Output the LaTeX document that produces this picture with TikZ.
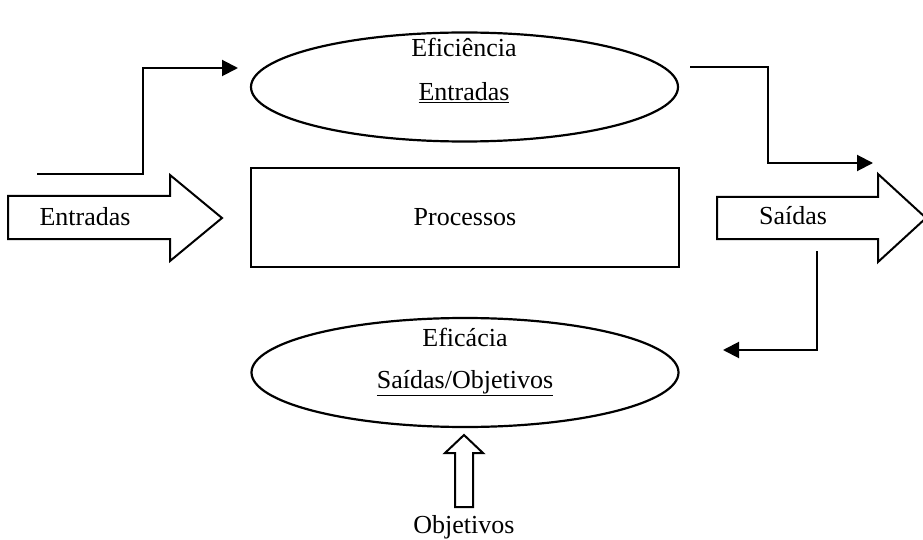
\documentclass[tikz,border=0pt]{standalone}
\usepackage{fontspec}
\setmainfont{Liberation Serif}
\usetikzlibrary{shapes.geometric,arrows.meta}

\tikzset{
    txt/.style={font=\fontsize{26pt}{30pt}\selectfont,inner sep=0pt},
    oval/.style={ellipse,draw,line width=2.2pt,minimum width=427pt,minimum height=109pt,inner sep=0pt},
    blockarrow/.style={draw,line width=2pt,line join=miter},
    conn/.style={line width=2pt,-{Triangle[length=16pt,width=16pt]}}
}

\begin{document}
\begin{tikzpicture}[x=1pt,y=-1pt]
            \useasboundingbox (0,0) rectangle (923,540);

            \node (efi) at (464.5,87) [oval] {};
            \node (efa) at (465,372.5) [oval] {};
            \node (proc) at (465,217.5) [rectangle,draw,line width=2.2pt,minimum width=428pt,minimum height=99pt,txt] {Processos};

            \node (efit) at (464,47) [txt] {Eficiência};
            \node (efie) at (464,93) [txt] {\underline{Entradas}};
            \node (efat) at (465,337) [txt] {Eficácia};
            \node (efas) at (465,383) [txt] {\underline{Saídas/Objetivos}};

            % setas largas
            \draw[blockarrow] (8,196) -- (170,196) -- (170,175) -- (222,218) -- (170,261) -- (170,239) -- (8,239) -- cycle;
            \draw[blockarrow] (717,197) -- (878,197) -- (878,174) -- (926,218) -- (878,262) -- (878,239) -- (717,239) -- cycle;
            \draw[blockarrow] (455,507) -- (455,453) -- (445,453) -- (464,435) -- (483,453) -- (473,453) -- (473,507) -- cycle;

            \node (ent) at (85,217) [txt] {Entradas};
            \node (sai) at (793,216) [txt] {Saídas};
            \node (obj) at (464,527) [txt] {Objetivos};

            \coordinate (a1) at (37,174);
            \coordinate (a2) at (238,68);
            \coordinate (b1) at (690,67);
            \coordinate (b2) at (873,163);
            \coordinate (c1) at (817,251);
            \coordinate (c2) at (723,350);

            \draw[conn] (a1) -- (143,174) |- (a2);
            \draw[conn] (b1) -- (768,67) |- (b2);
            \draw[conn] (c1) |- (c2);

        \end{tikzpicture}
\end{document}
